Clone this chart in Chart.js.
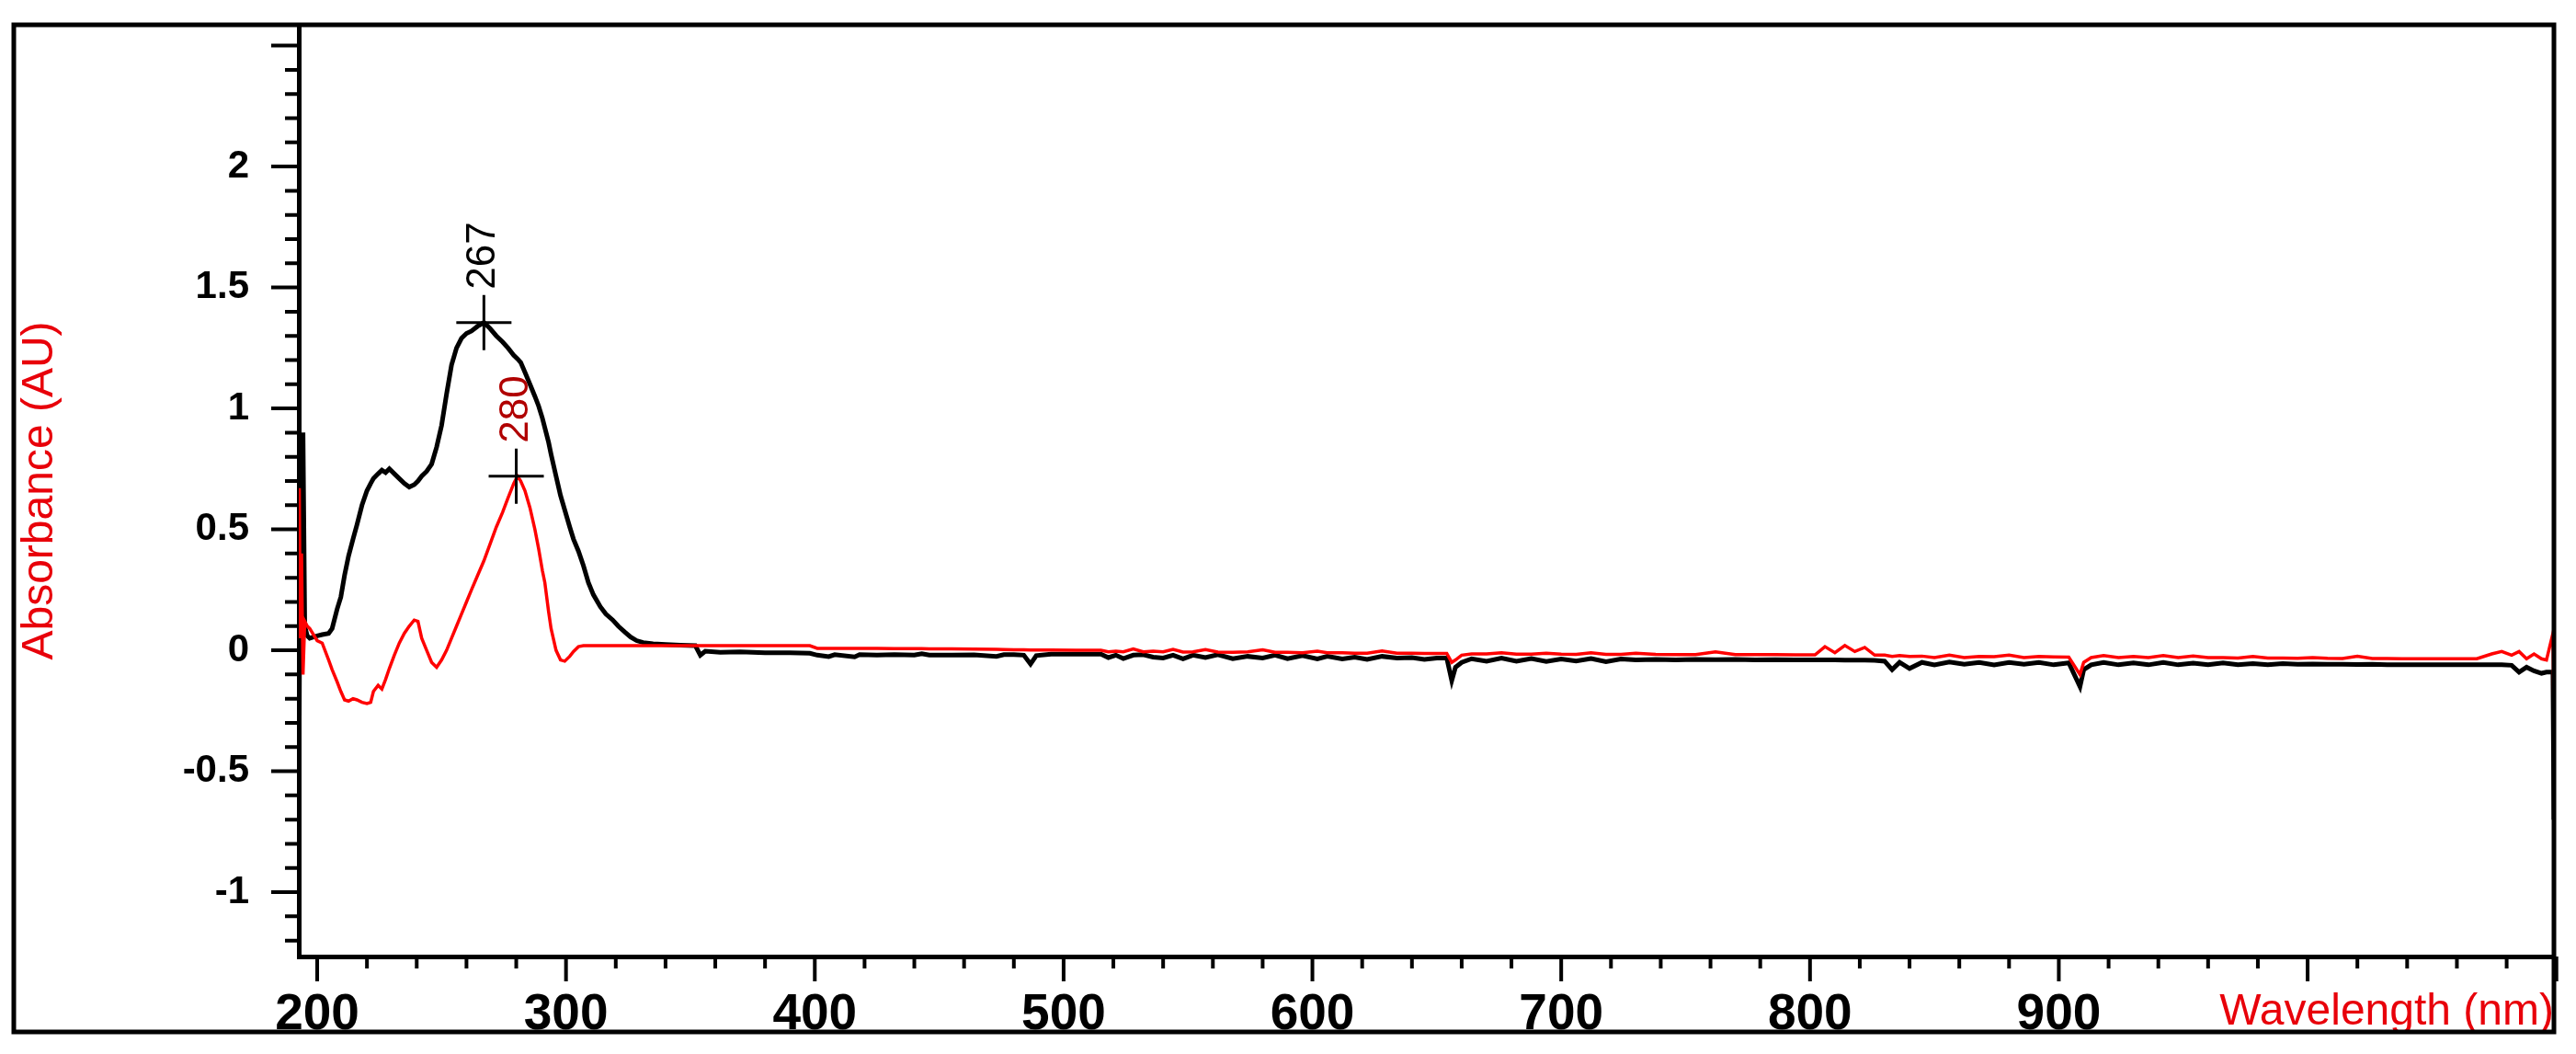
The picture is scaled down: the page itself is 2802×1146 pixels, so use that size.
<!DOCTYPE html>
<html>
<head>
<meta charset="utf-8">
<title>Absorbance spectrum</title>
<script src="https://cdn.jsdelivr.net/npm/chart.js"></script>
<style>
    html, body { margin: 0; padding: 0; background: #fff; }
    canvas { display: block; }
</style>
</head>
<body>
<canvas id="spectrum" width="2802" height="1146"></canvas>
<script>
    "use strict";

    // Wavelength grid (nm), shared by both traces
    var wavelengths = [
        192.8, 193.2, 193.7, 194.3, 195.0, 196.0, 197.0, 200, 202, 204.6,
        206, 208, 209.5, 211, 212.6, 214.4, 216, 218, 220, 221.5,
        222.6, 224.5, 226, 227.5, 229, 231, 233, 235, 237, 239,
        240.5, 242, 244, 246, 248, 250, 252, 254, 256, 258,
        260, 262, 264.5, 267, 269.5, 272, 274.5, 276.7, 279, 280.5,
        281.8, 283.5, 285.5, 287.5, 289, 290.5, 291.5, 293, 294, 296,
        297.8, 299.5, 301.5, 303, 305, 307, 309, 311, 313.8, 316,
        318.8, 321, 323.6, 326, 328.4, 331, 335, 340, 346, 352,
        354, 356, 362, 370, 380, 390, 398, 401, 405.6, 408,
        416, 418, 425, 432, 440, 443, 446, 455, 464, 473,
        476, 480, 484, 486.7, 489, 495, 505, 515, 518, 521,
        524, 528, 532, 536, 540, 544, 548, 552, 557, 562,
        568, 574, 580, 585, 590, 596, 602, 606, 612, 617,
        622, 628, 634, 640, 645, 650, 654, 656, 657.5, 660,
        664, 670, 676, 682, 688, 694, 700, 706, 712, 718,
        724, 730, 738, 746, 754, 762, 770, 778, 786, 794,
        802, 806, 810, 814, 818, 822, 826, 830, 833, 836,
        840, 845, 850, 856, 862, 868, 874, 880, 886, 892,
        898, 904, 908.5, 910, 913, 918, 924, 930, 936, 942,
        948, 954, 960, 966, 972, 978, 984, 990, 996, 1002,
        1008, 1014, 1020, 1026, 1032, 1038, 1044, 1050, 1056, 1062,
        1068, 1074, 1078, 1082, 1085, 1088, 1091, 1094, 1096, 1098.6,
        1099
    ];

    // Black trace (AU)
    var blackAbs = [
        -0.27, 0.73, 0.10, 0.90, 0.10, 0.06, 0.05, 0.06, 0.065, 0.07,
        0.09, 0.17, 0.22, 0.31, 0.39, 0.46, 0.52, 0.60, 0.66, 0.69,
        0.71, 0.73, 0.745, 0.735, 0.75, 0.73, 0.71, 0.69, 0.675, 0.685,
        0.70, 0.72, 0.74, 0.77, 0.84, 0.93, 1.06, 1.18, 1.25, 1.29,
        1.31, 1.32, 1.34, 1.355, 1.33, 1.30, 1.275, 1.25, 1.22, 1.205,
        1.19, 1.15, 1.10, 1.05, 1.01, 0.96, 0.92, 0.86, 0.81, 0.72,
        0.64, 0.58, 0.51, 0.46, 0.41, 0.35, 0.28, 0.23, 0.18, 0.15,
        0.125, 0.10, 0.076, 0.055, 0.04, 0.032, 0.027, 0.024, 0.021, 0.019,
        -0.02, -0.004, -0.008, -0.006, -0.01, -0.01, -0.012, -0.02, -0.026, -0.018,
        -0.027, -0.018, -0.02, -0.018, -0.02, -0.014, -0.02, -0.02, -0.019, -0.025,
        -0.018, -0.018, -0.02, -0.057, -0.022, -0.016, -0.016, -0.016, -0.03, -0.02,
        -0.034, -0.02, -0.018, -0.028, -0.032, -0.02, -0.035, -0.02, -0.03, -0.018,
        -0.035, -0.025, -0.032, -0.02, -0.035, -0.022, -0.036, -0.025, -0.036, -0.028,
        -0.038, -0.025, -0.032, -0.03, -0.038, -0.032, -0.032, -0.125, -0.07, -0.05,
        -0.035, -0.045, -0.032, -0.045, -0.034, -0.046, -0.036, -0.044, -0.034, -0.047,
        -0.036, -0.04, -0.038, -0.04, -0.038, -0.039, -0.038, -0.04, -0.039, -0.04,
        -0.04, -0.04, -0.04, -0.041, -0.041, -0.041, -0.042, -0.045, -0.08, -0.05,
        -0.075, -0.05, -0.06, -0.048, -0.058, -0.05, -0.06, -0.05, -0.058, -0.05,
        -0.06, -0.052, -0.15, -0.08, -0.06, -0.05, -0.06, -0.052, -0.06, -0.05,
        -0.06, -0.053, -0.06, -0.052, -0.06, -0.055, -0.06, -0.055, -0.058, -0.057,
        -0.058, -0.058, -0.059, -0.058, -0.06, -0.06, -0.06, -0.06, -0.06, -0.06,
        -0.06, -0.06, -0.06, -0.062, -0.09, -0.07, -0.085, -0.095, -0.09, -0.09,
        -0.70
    ];

    // Red trace (AU)
    var redAbs = [
        0.67, 0.05, 0.40, -0.10, 0.12, 0.10, 0.09, 0.04, 0.03, -0.04,
        -0.08, -0.13, -0.17, -0.205, -0.21, -0.20, -0.205, -0.215, -0.22, -0.215,
        -0.17, -0.145, -0.16, -0.12, -0.075, -0.02, 0.03, 0.07, 0.10, 0.125,
        0.12, 0.05, 0.0, -0.05, -0.07, -0.04, 0.0, 0.05, 0.10, 0.15,
        0.20, 0.25, 0.31, 0.37, 0.44, 0.51, 0.57, 0.63, 0.69, 0.72,
        0.70, 0.66, 0.59, 0.50, 0.42, 0.33, 0.28, 0.16, 0.09, 0.0,
        -0.04, -0.045, -0.025, -0.005, 0.015, 0.019, 0.019, 0.019, 0.019, 0.019,
        0.019, 0.019, 0.019, 0.019, 0.019, 0.019, 0.019, 0.019, 0.019, 0.019,
        0.019, 0.019, 0.019, 0.019, 0.019, 0.019, 0.019, 0.008, 0.008, 0.008,
        0.008, 0.008, 0.008, 0.007, 0.007, 0.007, 0.006, 0.006, 0.005, 0.004,
        0.003, 0.002, 0.002, 0.001, 0.001, 0.001, 0.0, 0.0, -0.006, -0.004,
        -0.006, 0.006, -0.006, -0.004, -0.006, 0.004, -0.007, -0.006, 0.003, -0.007,
        -0.008, -0.006, 0.002, -0.008, -0.008, -0.01, -0.004, -0.01, -0.01, -0.012,
        -0.012, -0.003, -0.012, -0.012, -0.013, -0.013, -0.013, -0.05, -0.04, -0.02,
        -0.015, -0.015, -0.01, -0.016, -0.016, -0.012, -0.016, -0.017, -0.01, -0.017,
        -0.017, -0.012, -0.017, -0.018, -0.018, -0.006, -0.018, -0.018, -0.018, -0.019,
        -0.019, 0.015, -0.01, 0.02, -0.005, 0.012, -0.02, -0.02, -0.025, -0.022,
        -0.025, -0.024, -0.03, -0.02, -0.03, -0.025, -0.026, -0.02, -0.03, -0.025,
        -0.027, -0.028, -0.10, -0.05, -0.03, -0.022, -0.03, -0.025, -0.03, -0.022,
        -0.03, -0.024, -0.03, -0.03, -0.032, -0.025, -0.032, -0.032, -0.033, -0.03,
        -0.033, -0.034, -0.025, -0.034, -0.034, -0.035, -0.035, -0.035, -0.035, -0.035,
        -0.035, -0.015, -0.005, -0.02, -0.005, -0.035, -0.015, -0.035, -0.04, 0.07,
        -0.28
    ];

    // Axis ticks and labels
    var xTickValues = [200, 300, 400, 500, 600, 700, 800, 900, 1000];
    var xTickLabels = ['200', '300', '400', '500', '600', '700', '800', '900', ''];
    var yTickValues = [-1, -0.5, 0, 0.5, 1, 1.5, 2];
    var yTickLabels = ['-1', '-0.5', '0', '0.5', '1', '1.5', '2'];

    // Peak markers
    var peakNm = [267, 280];
    var peakAbs = [1.355, 0.72];
    var peakColors = ['#000000', '#b00000'];

    var RED = '#ff0000';
    var TITLE_RED = '#e8000a';


    // Tick marks (major + minor), drawn off the chart's own scales
    var tickMarks = {
        id: 'tickMarks',
        afterDraw: function (chart) {
            var ctx = chart.ctx;
            var area = chart.chartArea;
            var xs = chart.scales.x;
            var ys = chart.scales.y;
            ctx.save();
            ctx.strokeStyle = '#000';
            ctx.lineWidth = 4;
            ctx.beginPath();
            for (var i = -12; i <= 25; i++) {
                var py = ys.getPixelForValue(i / 10);
                ctx.moveTo(area.left, py);
                ctx.lineTo(area.left - (i % 5 === 0 ? 30 : 15), py);
            }
            for (var nm = 200; nm <= 1100; nm += 20) {
                var px = xs.getPixelForValue(nm);
                ctx.moveTo(px, area.bottom);
                ctx.lineTo(px, area.bottom + (nm % 100 === 0 ? 27 : 13));
            }
            ctx.stroke();
            ctx.restore();
        }
    };


    // Peak crosses with rotated wavelength labels
    var peakMarks = {
        id: 'peakMarks',
        afterDatasetsDraw: function (chart) {
            var ctx = chart.ctx;
            var xs = chart.scales.x;
            var ys = chart.scales.y;
            ctx.save();
            peakNm.forEach(function (nm, i) {
                var px = xs.getPixelForValue(nm);
                var py = ys.getPixelForValue(peakAbs[i]);
                ctx.strokeStyle = '#000';
                ctx.lineWidth = 3;
                ctx.beginPath();
                ctx.moveTo(px - 30, py);
                ctx.lineTo(px + 30, py);
                ctx.moveTo(px, py - 30);
                ctx.lineTo(px, py + 30);
                ctx.stroke();

                ctx.save();
                ctx.translate(px, py - 36);
                ctx.rotate(-Math.PI / 2);
                ctx.fillStyle = peakColors[i];
                ctx.font = '44px "Liberation Sans", Arial, sans-serif';
                ctx.textAlign = 'left';
                ctx.textBaseline = 'middle';
                ctx.fillText(String(nm), 0, 0);
                ctx.restore();
            });
            ctx.restore();
        }
    };


    // Outer frame around the whole figure
    var outerFrame = {
        id: 'outerFrame',
        afterDraw: function (chart) {
            var ctx = chart.ctx;
            var area = chart.chartArea;
            ctx.save();
            ctx.strokeStyle = '#000';
            ctx.lineWidth = 5;
            ctx.strokeRect(15, area.top, area.right - 15, chart.height - 24 - area.top);
            ctx.restore();
        }
    };


    function series(values) {
        return wavelengths.map(function (nm, i) {
            return { x: nm, y: values[i] };
        });
    }

    // invisible tick marks only used to push the labels off the axis
    function spacerGrid(len) {
        return {
            display: true,
            drawOnChartArea: false,
            drawTicks: true,
            tickLength: len,
            tickColor: 'rgba(0,0,0,0)'
        };
    }

    var ctx = document.getElementById('spectrum').getContext('2d');
    var spectrumChart = new Chart(ctx, {
        type: 'line',
        data: {
            datasets: [{
                label: 'red',
                data: series(redAbs),
                borderColor: RED,
                borderWidth: 3.5,
                pointRadius: 0,
                tension: 0,
                order: 0
            },
            {
                label: 'black',
                data: series(blackAbs),
                borderColor: '#000000',
                borderWidth: 5,
                pointRadius: 0,
                tension: 0,
                order: 1
            }]
        },
        options: {
            responsive: false,
            animation: false,
            devicePixelRatio: 1,
            layout: {
                padding: { left: 15, top: 27, right: 24, bottom: 24 }
            },
            plugins: {
                legend: { display: false },
                tooltip: { enabled: false }
            },
            scales: {
                x: {
                    type: 'linear',
                    min: 192.6,
                    max: 1099,
                    grid: spacerGrid(31),
                    border: { display: true, color: '#000', width: 5 },
                    afterBuildTicks: function (scale) {
                        scale.ticks = xTickValues.map(function (v) { return { value: v }; });
                    },
                    afterFit: function (scale) {
                        scale.height = 82;
                    },
                    ticks: {
                        autoSkip: false,
                        maxRotation: 0,
                        padding: 0,
                        color: '#000',
                        font: { family: '"Liberation Sans Narrow", "Liberation Sans", Arial, sans-serif', size: 55, weight: 'bold' },
                        callback: function (value, index) {
                            return xTickLabels[index];
                        }
                    },
                    title: {
                        display: true,
                        text: 'Wavelength (nm)',
                        align: 'end',
                        color: TITLE_RED,
                        padding: { top: 0, bottom: -8 },
                        font: { family: '"Liberation Sans", Arial, sans-serif', size: 48 }
                    }
                },
                y: {
                    min: -1.266,
                    max: 2.586,
                    grid: spacerGrid(54),
                    border: { display: true, color: '#000', width: 5 },
                    afterBuildTicks: function (scale) {
                        scale.ticks = yTickValues.map(function (v) { return { value: v }; });
                    },
                    afterFit: function (scale) {
                        scale.width = 310;
                    },
                    ticks: {
                        autoSkip: false,
                        padding: 0,
                        color: '#000',
                        font: { family: '"Liberation Sans", Arial, sans-serif', size: 42, weight: 'bold' },
                        callback: function (value, index) {
                            return yTickLabels[index];
                        }
                    },
                    title: {
                        display: true,
                        text: 'Absorbance (AU)',
                        color: TITLE_RED,
                        padding: { top: 0, bottom: 0 },
                        font: { family: '"Liberation Sans", Arial, sans-serif', size: 48 }
                    }
                }
            }
        },
        plugins: [tickMarks, peakMarks, outerFrame]
    });
</script>
</body>
</html>
